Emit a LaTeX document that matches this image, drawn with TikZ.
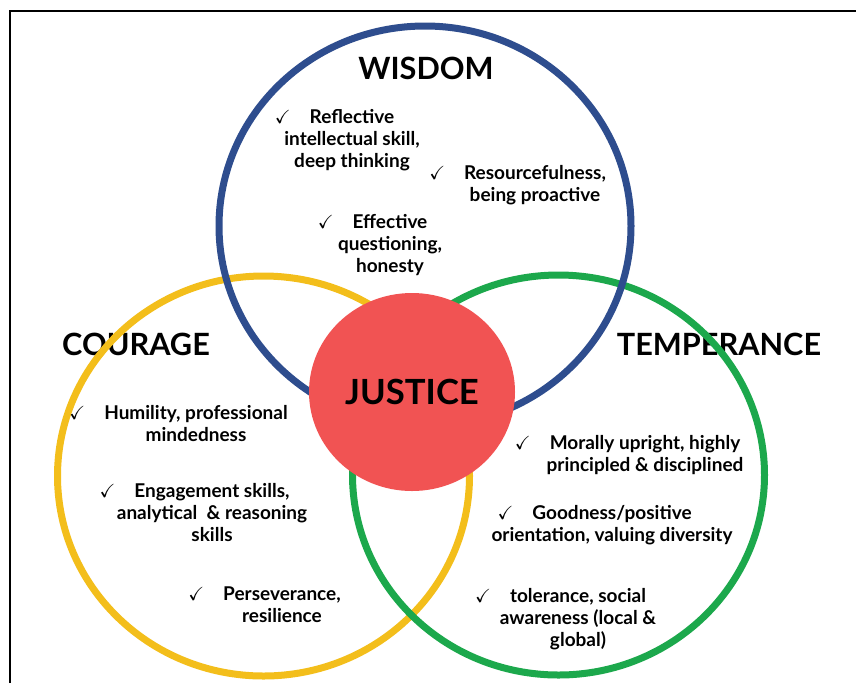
\documentclass[tikz,border=0pt]{standalone}
\usepackage{amssymb}
\usepackage{fontspec}
\setmainfont{Lato}
\usepackage{tikz}
\usetikzlibrary{shapes.geometric}

\definecolor{wisdomblue}{RGB}{46,77,142}
\definecolor{courageyellow}{RGB}{243,190,27}
\definecolor{temperancegreen}{RGB}{28,168,76}
\definecolor{justicered}{RGB}{241,83,83}

\newcommand{\tick}{\leavevmode\llap{$\checkmark$\hspace{1em}}}

\begin{document}
\begin{tikzpicture}[x=0.75pt, y=-0.75pt,
    ring/.style={draw, ellipse, line width=5.25pt, minimum width=309pt, minimum height=300pt, inner sep=0pt},
    core/.style={fill=justicered, ellipse, minimum width=154.5pt, minimum height=148.5pt, inner sep=0pt, font=\fontsize{26}{30}\selectfont\bfseries},
    title/.style={font=\fontsize{23}{27}\selectfont\bfseries},
    item/.style={align=center, inner sep=0pt, font=\fontsize{14.25}{16.5}\selectfont\bfseries}]
    \useasboundingbox (0,0) rectangle (856,683);
    \draw[line width=1.5pt] (9.5,683) -- (9.5,11) -- (856,11);

    \node[title] (wisdomlabel) at (426,68) {WISDOM};
    \node[title] (couragelabel) at (136,344) {COURAGE};
    \node[title] (temperancelabel) at (719,344) {TEMPERANCE};

    \node[ring, draw=courageyellow] (courage) at (263.5,476) {};
    \node[ring, draw=temperancegreen] (temperance) at (558.5,475) {};
    \node[ring, draw=wisdomblue] (wisdom) at (425,226) {};
    \node[core] (justice) at (412,392) {JUSTICE};

    \node[item] (w1) at (352,140) {\tick Reflective\\intellectual skill,\\deep thinking};
    \node[item] (w2) at (535,185) {\tick Resourcefulness,\\being proactive};
    \node[item] (w3) at (390,245) {\tick Effective\\questioning,\\honesty};

    \node[item] (c1) at (196,424) {\tick Humility, professional\\mindedness};
    \node[item] (c2) at (212,513) {\tick Engagement skills,\\analytical\ \ \& reasoning\\skills};
    \node[item] (c3) at (282,605) {\tick Perseverance,\\resilience};

    \node[item] (t1) at (645,455) {\tick Morally upright, highly\\principled \& disciplined};
    \node[item] (t2) at (612,525) {\tick Goodness/positive\\orientation, valuing diversity};
    \node[item] (t3) at (578,619) {\tick tolerance, social\\awareness (local \&\\global)};
\end{tikzpicture}
\end{document}
